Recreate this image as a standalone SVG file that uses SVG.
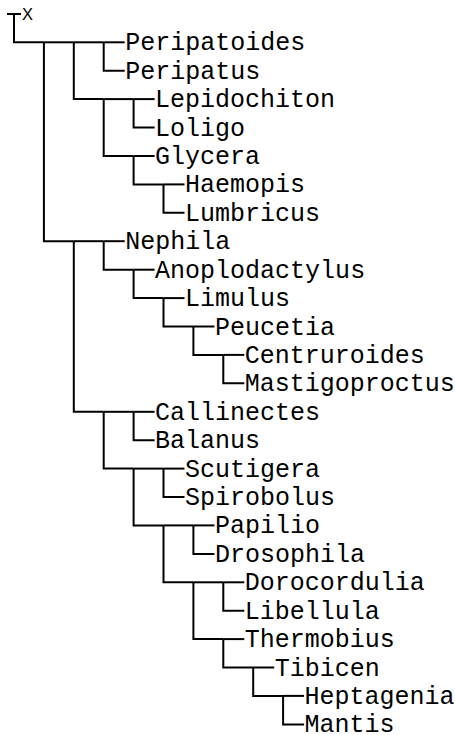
<svg xmlns="http://www.w3.org/2000/svg" width="455" height="735" viewBox="0 0 455 735">
<style>
.e{fill:none;stroke:#000;stroke-width:2;stroke-linejoin:miter;stroke-linecap:butt}
.t{font-family:"Liberation Mono","Courier New",monospace;font-size:25px;fill:#000}
.r{font-family:"Liberation Sans",Arial,sans-serif;font-size:16.5px;fill:#000}
</style>
<rect width="455" height="735" fill="#fff"/>
<g id="connectors">
<path class="e" d="M7,14 H21"/>
<path class="e" d="M14,14 V42.3 H43.9"/>
<path class="e" d="M43.9,42.3 H73.8"/>
<path class="e" d="M43.9,42.3 V241.2 H73.8"/>
<path class="e" d="M73.8,42.3 H103.7"/>
<path class="e" d="M73.8,42.3 V99.1 H103.7"/>
<path class="e" d="M103.7,42.3 H124.7"/>
<path class="e" d="M103.7,42.3 V70.7 H124.7"/>
<path class="e" d="M103.7,99.1 H133.6"/>
<path class="e" d="M103.7,99.1 V156 H133.6"/>
<path class="e" d="M133.6,99.1 H154.6"/>
<path class="e" d="M133.6,99.1 V127.6 H154.6"/>
<path class="e" d="M133.6,156 H154.6"/>
<path class="e" d="M133.6,156 V184.4 H163.5"/>
<path class="e" d="M163.5,184.4 H184.5"/>
<path class="e" d="M163.5,184.4 V212.8 H184.5"/>
<path class="e" d="M73.8,241.2 H103.7"/>
<path class="e" d="M73.8,241.2 V411.8 H103.7"/>
<path class="e" d="M103.7,241.2 H124.7"/>
<path class="e" d="M103.7,241.2 V269.7 H133.6"/>
<path class="e" d="M133.6,269.7 H154.6"/>
<path class="e" d="M133.6,269.7 V298.1 H163.5"/>
<path class="e" d="M163.5,298.1 H184.5"/>
<path class="e" d="M163.5,298.1 V326.5 H193.4"/>
<path class="e" d="M193.4,326.5 H214.4"/>
<path class="e" d="M193.4,326.5 V354.9 H223.3"/>
<path class="e" d="M223.3,354.9 H244.3"/>
<path class="e" d="M223.3,354.9 V383.3 H244.3"/>
<path class="e" d="M103.7,411.8 H133.6"/>
<path class="e" d="M103.7,411.8 V468.6 H133.6"/>
<path class="e" d="M133.6,411.8 H154.6"/>
<path class="e" d="M133.6,411.8 V440.2 H154.6"/>
<path class="e" d="M133.6,468.6 H163.5"/>
<path class="e" d="M133.6,468.6 V525.4 H163.5"/>
<path class="e" d="M163.5,468.6 H184.5"/>
<path class="e" d="M163.5,468.6 V497 H184.5"/>
<path class="e" d="M163.5,525.4 H193.4"/>
<path class="e" d="M163.5,525.4 V582.3 H193.4"/>
<path class="e" d="M193.4,525.4 H214.4"/>
<path class="e" d="M193.4,525.4 V553.9 H214.4"/>
<path class="e" d="M193.4,582.3 H223.3"/>
<path class="e" d="M193.4,582.3 V639.1 H223.3"/>
<path class="e" d="M223.3,582.3 H244.3"/>
<path class="e" d="M223.3,582.3 V610.7 H244.3"/>
<path class="e" d="M223.3,639.1 H244.3"/>
<path class="e" d="M223.3,639.1 V667.5 H253.2"/>
<path class="e" d="M253.2,667.5 H274.2"/>
<path class="e" d="M253.2,667.5 V695.9 H283.1"/>
<path class="e" d="M283.1,695.9 H304.1"/>
<path class="e" d="M283.1,695.9 V724.4 H304.1"/>
</g>
<g id="X"><text class="r" x="22" y="19.5">X</text></g>
<g id="Peripatoides"><text class="t" x="125.2" y="50.3">Peripatoides</text></g>
<g id="Peripatus"><text class="t" x="125.2" y="78.7">Peripatus</text></g>
<g id="Lepidochiton"><text class="t" x="155.1" y="107.1">Lepidochiton</text></g>
<g id="Loligo"><text class="t" x="155.1" y="135.6">Loligo</text></g>
<g id="Glycera"><text class="t" x="155.1" y="164">Glycera</text></g>
<g id="Haemopis"><text class="t" x="185" y="192.4">Haemopis</text></g>
<g id="Lumbricus"><text class="t" x="185" y="220.8">Lumbricus</text></g>
<g id="Nephila"><text class="t" x="125.2" y="249.2">Nephila</text></g>
<g id="Anoplodactylus"><text class="t" x="155.1" y="277.7">Anoplodactylus</text></g>
<g id="Limulus"><text class="t" x="185" y="306.1">Limulus</text></g>
<g id="Peucetia"><text class="t" x="214.9" y="334.5">Peucetia</text></g>
<g id="Centruroides"><text class="t" x="244.8" y="362.9">Centruroides</text></g>
<g id="Mastigoproctus"><text class="t" x="244.8" y="391.3">Mastigoproctus</text></g>
<g id="Callinectes"><text class="t" x="155.1" y="419.8">Callinectes</text></g>
<g id="Balanus"><text class="t" x="155.1" y="448.2">Balanus</text></g>
<g id="Scutigera"><text class="t" x="185" y="476.6">Scutigera</text></g>
<g id="Spirobolus"><text class="t" x="185" y="505">Spirobolus</text></g>
<g id="Papilio"><text class="t" x="214.9" y="533.4">Papilio</text></g>
<g id="Drosophila"><text class="t" x="214.9" y="561.9">Drosophila</text></g>
<g id="Dorocordulia"><text class="t" x="244.8" y="590.3">Dorocordulia</text></g>
<g id="Libellula"><text class="t" x="244.8" y="618.7">Libellula</text></g>
<g id="Thermobius"><text class="t" x="244.8" y="647.1">Thermobius</text></g>
<g id="Tibicen"><text class="t" x="274.7" y="675.5">Tibicen</text></g>
<g id="Heptagenia"><text class="t" x="304.6" y="703.9">Heptagenia</text></g>
<g id="Mantis"><text class="t" x="304.6" y="732.4">Mantis</text></g>
</svg>
